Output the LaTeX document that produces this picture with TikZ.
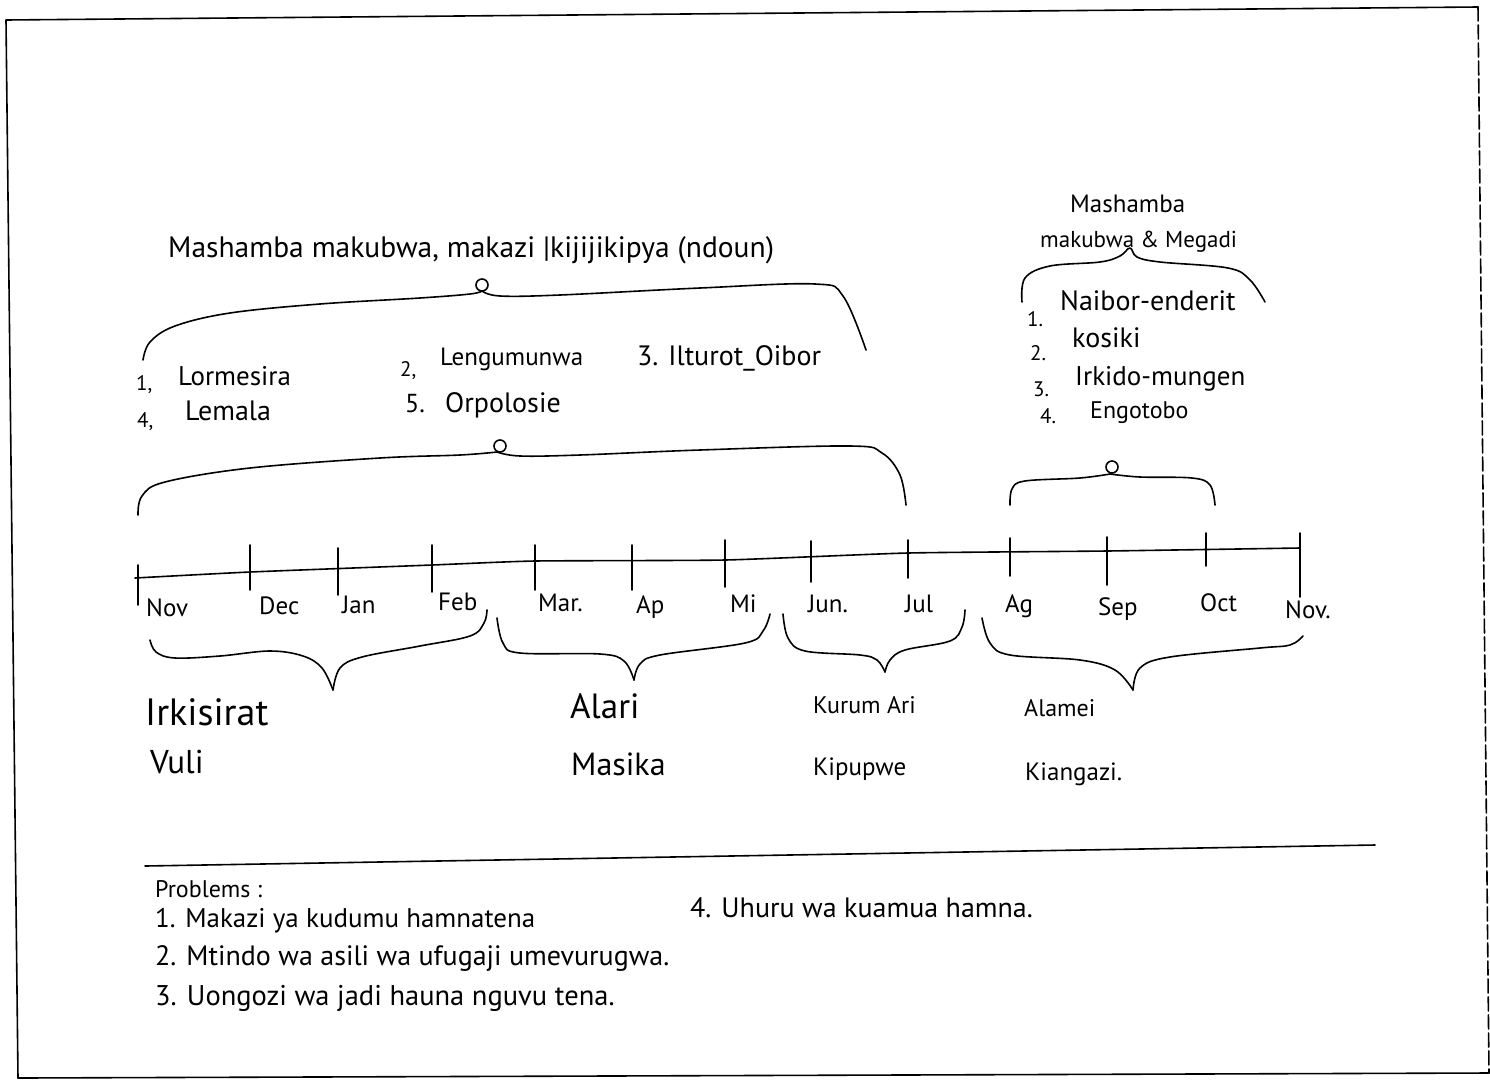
\documentclass[tikz,border=0pt]{standalone}
\usepackage{fontspec}
\setmainfont{PT Sans}
\newcommand{\fs}[1]{\fontsize{#1}{#1}\selectfont}
\begin{document}
\begin{tikzpicture}[x=1pt,y=-1pt,
  ink/.style={line width=1.6pt, line cap=round, line join=round},
  hw/.style={inner sep=0pt, anchor=base west},
  tick/.style={ink},
  knot/.style={line width=1.6pt}
]
\useasboundingbox (0,0) rectangle (1490,1082);
\fill[white] (0,0) rectangle (1490,1082);

% frame
\draw[ink] (18,1078) -- (6,20) -- (1478,7);
\draw[ink, dash pattern=on 14pt off 4pt] (1478,7) -- (1489,1073);
\draw[ink] (18,1078) -- (1489,1073);

% heading left
\node[hw, font=\fs{29.5}] (h1) at (168,257) {Mashamba makubwa, makazi |kijijikipya (ndoun)};

% brace 1
\draw[ink] plot[smooth, tension=0.6] coordinates {(143,360) (150,342) (175,326) (230,313) (320,304) (420,298) (470,294) (482,291)};
\draw[ink] plot[smooth, tension=0.6] coordinates {(482,291) (500,296) (560,295) (700,288) (815,284) (843,296) (866,350)};
\draw[knot] (482,285) circle (6pt);

% items left
\node[hw, font=\fs{21}] (n1) at (136,390) {1,};
\node[hw, font=\fs{27}] (i1) at (178,385) {Lormesira};
\node[hw, font=\fs{21}] (n4) at (137,427) {4,};
\node[hw, font=\fs{28}] (i4) at (185,420) {Lemala};
\node[hw, font=\fs{21}] (n2) at (400,376) {2,};
\node[hw, font=\fs{25}] (i2) at (440,365) {Lengumunwa};
\node[hw, font=\fs{26}] (n5) at (405,412) {5.};
\node[hw, font=\fs{28}] (i5) at (445,412) {Orpolosie};
\node[hw, font=\fs{28}] (i3) at (637,365) {3. Ilturot\_Oibor};

% heading right
\node[hw, font=\fs{25}] (h2a) at (1070,212) {Mashamba};
\node[hw, font=\fs{23}] (h2b) at (1040,247) {makubwa \& Megadi};

% brace 4
\draw[ink] plot[smooth, tension=0.6] coordinates {(1022,302) (1025,278) (1050,266) (1100,262) (1120,256) (1130,248) (1137,257) (1160,262) (1228,268) (1250,280) (1265,302)};

% items right
\node[hw, font=\fs{21}] (r1n) at (1027,326) {1.};
\node[hw, font=\fs{28}] (r1) at (1060,310) {Naibor-enderit};
\node[hw, font=\fs{21}] (r2n) at (1030,360) {2.};
\node[hw, font=\fs{28}] (r2) at (1072,347) {kosiki};
\node[hw, font=\fs{21}] (r3n) at (1033,396) {3.};
\node[hw, font=\fs{27}] (r3) at (1075,385) {Irkido-mungen};
\node[hw, font=\fs{21}] (r4n) at (1040,423) {4.};
\node[hw, font=\fs{24}] (r4) at (1090,418) {Engotobo};

% brace 2
\draw[ink] plot[smooth, tension=0.6] coordinates {(138,515) (142,496) (165,482) (250,468) (380,458) (460,455) (497,452)};
\draw[ink] plot[smooth, tension=0.6] coordinates {(497,452) (520,456) (580,455) (700,450) (850,446) (882,453) (900,475) (906,505)};
\draw[knot] (500,446) circle (6pt);

% brace 3
\draw[ink] plot[smooth, tension=0.6] coordinates {(1010,505) (1012,489) (1025,481) (1080,478) (1110,474)};
\draw[ink] plot[smooth, tension=0.6] coordinates {(1110,474) (1140,477) (1192,478) (1210,485) (1215,505)};
\draw[knot] (1112,467) circle (6pt);

% timeline
\draw[ink] plot[smooth, tension=0.3] coordinates {(135,578) (250,572) (432,565) (535,561) (725,560) (908,553) (1107,551) (1300,548)};
\foreach \x/\a/\b in {138/565/605, 250/545/590, 338/548/595, 432/545/592, 535/545/590, 632/545/590, 725/540/587, 811/541/582, 908/540/578, 1010/538/576, 1107/537/585, 1206/533/566, 1300/533/597}
  \draw[tick] (\x,\a) -- (\x,\b);

% month labels
\node[hw, font=\fs{25}] (m1) at (146,616) {Nov};
\node[hw, font=\fs{25}] (m2) at (259,614) {Dec};
\node[hw, font=\fs{25}] (m3) at (342,613) {Jan};
\node[hw, font=\fs{25}] (m4) at (438,610) {Feb};
\node[hw, font=\fs{25}] (m5) at (538,611) {Mar.};
\node[hw, font=\fs{25}] (m6) at (636,613) {Ap};
\node[hw, font=\fs{25}] (m7) at (730,612) {Mi};
\node[hw, font=\fs{25}] (m8) at (808,612) {Jun.};
\node[hw, font=\fs{25}] (m9) at (905,612) {Jul};
\node[hw, font=\fs{25}] (m10) at (1005,612) {Ag};
\node[hw, font=\fs{25}] (m11) at (1098,615) {Sep};
\node[hw, font=\fs{25}] (m12) at (1200,611) {Oct};
\node[hw, font=\fs{25}] (m13) at (1285,618) {Nov.};

% lower braces
\draw[ink] plot[smooth, tension=0.6] coordinates {(150,640) (156,652) (175,658) (220,656) (270,651) (303,656) (322,668) (333,690)};
\draw[ink] plot[smooth, tension=0.6] coordinates {(333,690) (340,668) (362,657) (420,646) (470,636) (484,623) (487,610)};
\draw[ink] plot[smooth, tension=0.6] coordinates {(497,618) (503,643) (520,653) (600,654) (624,661) (634,680)};
\draw[ink] plot[smooth, tension=0.6] coordinates {(634,680) (640,664) (660,655) (745,643) (763,631) (770,614)};
\draw[ink] plot[smooth, tension=0.6] coordinates {(783,614) (788,638) (805,651) (860,655) (877,660) (885,672)};
\draw[ink] plot[smooth, tension=0.6] coordinates {(885,672) (890,660) (905,650) (950,641) (962,627) (965,610)};
\draw[ink] plot[smooth, tension=0.6] coordinates {(982,618) (990,643) (1010,655) (1080,660) (1115,670) (1133,690)};
\draw[ink] plot[smooth, tension=0.6] coordinates {(1133,690) (1140,668) (1170,657) (1260,648) (1290,645) (1303,636)};

% season labels
\node[hw, font=\fs{38}] (s1a) at (145,725) {Irkisirat};
\node[hw, font=\fs{33}] (s1b) at (150,773) {Vuli};
\node[hw, font=\fs{35}] (s2a) at (570,718) {Alari};
\node[hw, font=\fs{32}] (s2b) at (571,775) {Masika};
\node[hw, font=\fs{24}] (s3a) at (813,713) {Kurum Ari};
\node[hw, font=\fs{25}] (s3b) at (813,775) {Kipupwe};
\node[hw, font=\fs{24}] (s4a) at (1024,716) {Alamei};
\node[hw, font=\fs{25}] (s4b) at (1025,780) {Kiangazi.};

% separator
\draw[ink] (145,866) -- (1375,845);

% problems
\node[hw, font=\fs{24}] (p0) at (155,897) {Problems :};
\node[hw, font=\fs{27}] (p1) at (155,927) {1. Makazi ya kudumu hamnatena};
\node[hw, font=\fs{28}] (p2) at (155,965) {2. Mtindo wa asili wa ufugaji umevurugwa.};
\node[hw, font=\fs{28.5}] (p3) at (155,1005) {3. Uongozi wa jadi hauna nguvu tena.};
\node[hw, font=\fs{28}] (p4) at (690,917) {4. Uhuru wa kuamua hamna.};
\end{tikzpicture}
\end{document}
